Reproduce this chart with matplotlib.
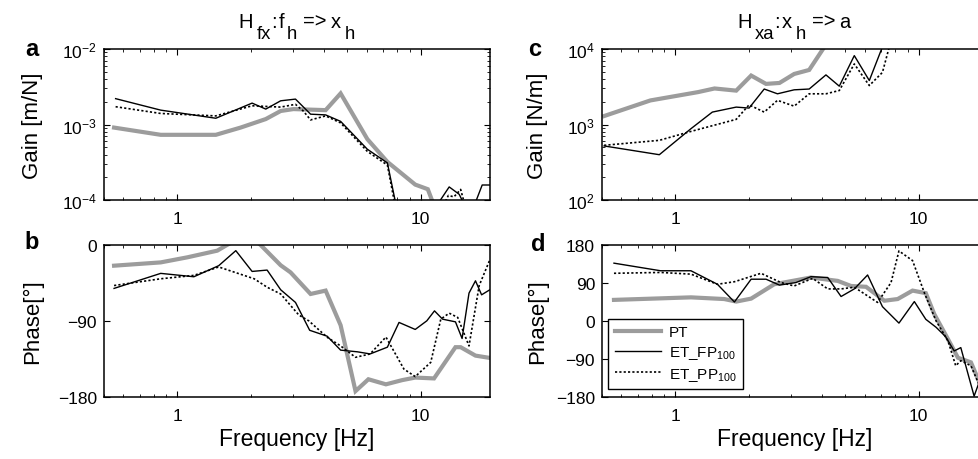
import matplotlib
matplotlib.use("Agg")
import matplotlib.pyplot as plt
from matplotlib.ticker import LogLocator, FixedLocator, NullFormatter, FixedFormatter

plt.rcParams['font.family'] = ['Liberation Sans', 'DejaVu Sans']
plt.rcParams['mathtext.fontset'] = 'custom'
plt.rcParams['mathtext.rm'] = 'Liberation Sans'
plt.rcParams['mathtext.it'] = 'Liberation Sans:italic'
plt.rcParams['mathtext.bf'] = 'Liberation Sans:bold'

# --- dane ---
# a: H_fx gain [m/N]
f_a_pt = [0.55, 0.855, 1.44, 1.82, 2.31, 2.66, 3.0, 4.07, 4.69, 6.04, 7.3, 9.5, 10.7, 11.6]
g_a_pt = [9.1e-4, 7.3e-4, 7.3e-4, 9.1e-4, 1.18e-3, 1.51e-3, 1.6e-3, 1.55e-3, 2.58e-3, 6.4e-4, 3.2e-4, 1.6e-4, 1.39e-4, 7e-5]
f_a_fp = [0.558, 0.855, 1.44, 2.03, 2.31, 2.66, 3.06, 3.53, 4.07, 4.69, 6.04, 7.3, 8.2, 11.2, 13.1, 14.4, 15.3, 16.5, 17.9, 19.5]
g_a_fp = [2.2e-3, 1.55e-3, 1.21e-3, 1.92e-3, 1.6e-3, 2.06e-3, 2.17e-3, 1.37e-3, 1.34e-3, 1.1e-3, 4.7e-4, 3.1e-4, 5e-5, 7e-5, 1.49e-4, 1.19e-4, 8e-5, 8e-5, 1.58e-4, 1.58e-4]
f_a_pp = [0.558, 0.855, 1.44, 2.03, 2.66, 3.06, 3.3, 3.53, 4.07, 4.69, 6.04, 7.3, 8.1, 12.3, 13.0, 13.7, 14.6, 15.0, 15.6]
g_a_pp = [1.72e-3, 1.4e-3, 1.3e-3, 1.77e-3, 1.7e-3, 1.85e-3, 1.5e-3, 1.15e-3, 1.3e-3, 1.05e-3, 4.4e-4, 2.9e-4, 5e-5, 8e-5, 1.15e-4, 1.1e-4, 1.38e-4, 1.0e-4, 7e-5]

# b: H_fx phase [deg]
f_b_pt = [0.55, 0.855, 1.1, 1.46, 1.6, 1.8, 2.05, 2.2, 2.66, 2.92, 3.53, 4.07, 4.69, 5.4, 6.1, 7.2, 8.4, 9.5, 11.35, 13.9, 14.6, 16.8, 19.5]
p_b_pt = [-24.5, -20.6, -14.6, -6.7, 0, 8, 8, 0, -24, -32.4, -58, -54, -95, -173, -159, -165, -160, -157, -158, -121, -121, -131, -134]
f_b_fp = [0.55, 0.855, 1.17, 1.48, 1.74, 2.03, 2.34, 2.66, 3.06, 3.5, 4.13, 4.69, 5.5, 6.2, 7.3, 8.15, 9.5, 10.6, 11.4, 12.3, 13.9, 14.8, 15.8, 16.8, 17.8, 19.5]
p_b_fp = [-51.4, -33.6, -37.6, -24.5, -6.7, -31.3, -29.7, -53, -68, -101, -108, -124.5, -126.5, -129, -121, -91.7, -100, -89.8, -78, -87.8, -91, -110.7, -57, -42.4, -59, -52]
f_b_pp = [0.55, 0.855, 1.17, 1.48, 2.07, 2.34, 2.66, 3.16, 3.47, 4.14, 4.69, 5.4, 6.2, 7.2, 8.54, 9.5, 11.0, 12.1, 13.1, 14.2, 15.8, 17.4, 19.3]
p_b_pp = [-48, -40, -36, -26, -40, -50, -58, -83, -89.8, -109.5, -119.5, -133, -129, -109, -147, -155.8, -139, -87.8, -80.7, -85.8, -119.5, -48, -16.6]

# c: H_xa gain [N/m]
f_c_pt = [0.51, 0.79, 1.24, 1.45, 1.78, 2.05, 2.36, 2.68, 3.08, 3.55, 4.2]
g_c_pt = [1294, 2083, 2685, 3000, 2810, 4450, 3450, 3550, 4670, 5280, 12000]
f_c_fp = [0.51, 0.86, 1.16, 1.42, 1.78, 2.01, 2.32, 2.63, 3.08, 3.55, 4.16, 4.72, 5.44, 6.27, 7.2]
g_c_fp = [520, 398, 880, 1460, 1700, 1650, 2950, 2550, 2880, 2950, 4540, 3220, 8170, 3820, 12000]
f_c_pp = [0.51, 0.86, 1.16, 1.78, 2.01, 2.32, 2.63, 3.08, 3.55, 4.16, 4.72, 5.44, 6.27, 7.1, 7.7]
g_c_pp = [530, 617, 810, 1170, 1820, 1460, 2090, 1750, 2550, 2550, 2820, 6340, 3280, 4900, 13000]

# d: H_xa phase [deg]
f_d_pt = [0.56, 1.16, 1.59, 1.78, 2.05, 2.55, 3.61, 4.65, 5.27, 6.08, 7.23, 8.2, 9.44, 10.7, 11.6, 13.2, 14.5, 16.4, 17.8, 19.5]
p_d_pt = [50, 56, 52, 46, 53, 87, 103, 95, 83, 81, 48, 52, 72, 66, 16, -43, -87, -98, -146, -160]
f_d_fp = [0.56, 0.87, 1.16, 1.49, 1.75, 2.05, 2.36, 2.68, 3.13, 3.61, 4.23, 4.8, 5.44, 6.17, 7.1, 8.3, 9.6, 10.7, 11.8, 12.9, 14.0, 14.9, 16.9, 17.9]
p_d_fp = [137, 119, 119, 87, 45, 99, 99, 85, 91, 105, 103, 58, 76, 109, 34, -5, 46, 4, -15, -37, -71, -63, -178, -138]
f_d_pp = [0.56, 0.87, 1.16, 1.49, 1.75, 2.25, 2.72, 3.08, 3.67, 4.23, 4.8, 5.44, 6.78, 7.7, 8.3, 9.44, 10.6, 11.8, 13.2, 14.2, 14.9, 16.4, 17.8]
p_d_pp = [113, 115, 111, 87, 93, 113, 91, 83, 101, 76, 76, 80, 44, 91, 166, 143, 64, 0, -47, -106, -94, -106, -154]

labels = ['PT', 'ET_FP$_{100}$', 'ET_PP$_{100}$']

# tytuly: (tekst, obnizenie w px, odstep w px)
tytul_lewy = [('H', 0, 0), ('fx', 11, 3), (':', 0, 0), ('f', 0, 2), ('h', 11, 3), ('=>', 0, 6), ('x', 0, 4), ('h', 11, 4)]
tytul_prawy = [('H', 0, 0), ('xa', 11, 3), (':', 0, 0), ('x', 0, 2), ('h', 11, 3), ('=>', 0, 6), ('a', 0, 4)]

grey = '#9c9c9c'
W_PX, H_PX = 979, 460
fig = plt.figure(figsize=(9.79, 4.6), dpi=100)

W = 385.6 / W_PX
ax_a = fig.add_axes([104 / W_PX, 259 / H_PX, W, 151 / H_PX])
ax_b = fig.add_axes([104 / W_PX, 62 / H_PX, W, 152 / H_PX])
ax_c = fig.add_axes([602 / W_PX, 259 / H_PX, W, 151 / H_PX])
ax_d = fig.add_axes([602 / W_PX, 62 / H_PX, W, 152 / H_PX])


def rysuj(ax, f_pt, y_pt, f_fp, y_fp, f_pp, y_pp):
    ax.plot(f_pt, y_pt, color=grey, lw=3.0, label=labels[0], solid_joinstyle='miter')
    ax.plot(f_fp, y_fp, color='black', lw=1.0, label=labels[1])
    ax.plot(f_pp, y_pp, color='black', lw=1.2, ls=(0, (1.3, 1.3)), label=labels[2])
    ax.set_xscale('log')
    ax.set_xlim(0.5, 19.2)
    ax.xaxis.set_major_locator(FixedLocator([1, 10]))
    ax.xaxis.set_major_formatter(FixedFormatter(['1', '10']))
    ax.xaxis.set_minor_locator(LogLocator(base=10, subs=range(2, 10)))
    ax.xaxis.set_minor_formatter(NullFormatter())
    ax.tick_params(which='both', direction='in', top=True, right=True, labelsize=12.5)
    ax.tick_params(which='major', length=4, width=0.8)
    ax.tick_params(which='minor', length=2, width=0.6)
    ax.tick_params(axis='x', pad=8)
    ax.tick_params(axis='y', pad=5)
    for s in ax.spines.values():
        s.set_linewidth(1.1)


def tytul(xc, yb, czesci, size=14.5):
    # tekst z mocno obnizonymi indeksami (jak w MATLAB)
    r = fig.canvas.get_renderer()
    obiekty = []
    x = 0
    for tekst, dy, gap in czesci:
        t = fig.text(0, 0, tekst, fontsize=size if dy == 0 else size * 0.92,
                     ha='left', va='baseline')
        w = t.get_window_extent(r).width
        obiekty.append((t, x + gap, dy))
        x += gap + w
    x0 = xc - x / 2
    for t, xx, dy in obiekty:
        t.set_position(((x0 + xx) / W_PX, 1 - (yb + dy) / H_PX))


rysuj(ax_a, f_a_pt, g_a_pt, f_a_fp, g_a_fp, f_a_pp, g_a_pp)
rysuj(ax_b, f_b_pt, p_b_pt, f_b_fp, p_b_fp, f_b_pp, p_b_pp)
rysuj(ax_c, f_c_pt, g_c_pt, f_c_fp, g_c_fp, f_c_pp, g_c_pp)
rysuj(ax_d, f_d_pt, p_d_pt, f_d_fp, p_d_fp, f_d_pp, p_d_pp)

ax_a.set_yscale('log')
ax_a.set_ylim(1e-4, 1e-2)
ax_c.set_yscale('log')
ax_c.set_ylim(1e2, 1e4)
for ax in (ax_a, ax_c):
    ax.yaxis.set_major_locator(LogLocator(base=10, numticks=5))
    ax.yaxis.set_minor_locator(LogLocator(base=10, subs=range(2, 10), numticks=20))
    ax.yaxis.set_minor_formatter(NullFormatter())

ax_b.set_ylim(-180, 0)
ax_b.set_yticks([-180, -90, 0])
ax_d.set_ylim(-180, 180)
ax_d.set_yticks([-180, -90, 0, 90, 180])

ax_a.set_ylabel('Gain [m/N]', fontsize=16)
ax_b.set_ylabel('Phase[°]', fontsize=16)
ax_c.set_ylabel('Gain [N/m]', fontsize=16)
ax_d.set_ylabel('Phase[°]', fontsize=16)
for ax in (ax_a, ax_b):
    ax.yaxis.set_label_coords(-0.158, 0.5)
for ax in (ax_c, ax_d):
    ax.yaxis.set_label_coords(-0.14, 0.5)

for ax in (ax_b, ax_d):
    ax.set_xlabel('Frequency [Hz]', fontsize=16.5)
    ax.xaxis.set_label_coords(0.5, -0.2)

tytul(297, 28, tytul_lewy)
tytul(794, 28, tytul_prawy)

for lit, x, y in [('a', 32, 50), ('b', 32, 243), ('c', 535, 50), ('d', 538, 245)]:
    fig.text(x / W_PX, 1 - y / H_PX, lit, fontsize=17, fontweight='bold', ha='center', va='center')

leg = ax_d.legend(loc='lower left', bbox_to_anchor=(0.016, 0.05), borderaxespad=0,
                  fontsize=11, handlelength=3.0, fancybox=False, framealpha=1,
                  edgecolor='black', labelspacing=0.3, borderpad=0.45, handletextpad=0.5)
leg.get_frame().set_linewidth(1.0)

fig.savefig('out.png', dpi=100)
